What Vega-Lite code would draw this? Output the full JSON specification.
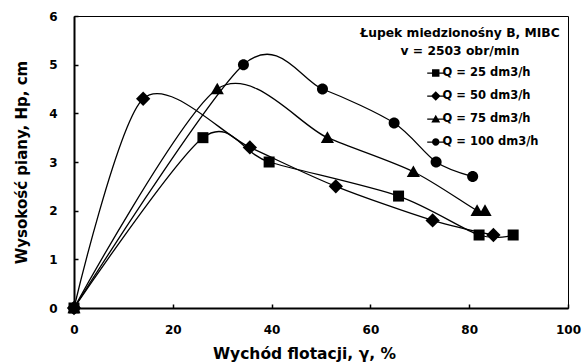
{
  "$schema": "https://vega.github.io/schema/vega-lite/v6.json",
  "width": 494,
  "height": 292,
  "autosize": "none",
  "padding": {"left": 74, "top": 16, "right": 14, "bottom": 56},
  "background": "white",
  "config": {
    "font": "DejaVu Sans",
    "view": {"stroke": "black", "strokeWidth": 1},
    "axis": {
      "grid": false,
      "domainColor": "black",
      "domainWidth": 2,
      "tickColor": "black",
      "tickSize": -4,
      "tickWidth": 1.5,
      "labelFont": "DejaVu Sans",
      "labelFontWeight": "bold",
      "labelFontSize": 12,
      "labelColor": "black",
      "labelFlush": false,
      "titleFont": "DejaVu Sans",
      "titleFontWeight": "bold",
      "titleFontSize": 15,
      "titleColor": "black"
    }
  },
  "data": {
    "values": [
      {"series": "Q = 25 dm3/h", "x": 0, "y": 0},
      {"series": "Q = 25 dm3/h", "x": 26.1, "y": 3.5},
      {"series": "Q = 25 dm3/h", "x": 39.5, "y": 3.0},
      {"series": "Q = 25 dm3/h", "x": 65.7, "y": 2.3},
      {"series": "Q = 25 dm3/h", "x": 82.0, "y": 1.5},
      {"series": "Q = 25 dm3/h", "x": 88.9, "y": 1.5},
      {"series": "Q = 50 dm3/h", "x": 0, "y": 0},
      {"series": "Q = 50 dm3/h", "x": 14.0, "y": 4.3},
      {"series": "Q = 50 dm3/h", "x": 35.6, "y": 3.3},
      {"series": "Q = 50 dm3/h", "x": 53.0, "y": 2.5},
      {"series": "Q = 50 dm3/h", "x": 72.6, "y": 1.8},
      {"series": "Q = 50 dm3/h", "x": 84.9, "y": 1.5},
      {"series": "Q = 75 dm3/h", "x": 0, "y": 0},
      {"series": "Q = 75 dm3/h", "x": 29.0, "y": 4.5},
      {"series": "Q = 75 dm3/h", "x": 51.3, "y": 3.5},
      {"series": "Q = 75 dm3/h", "x": 68.7, "y": 2.8},
      {"series": "Q = 75 dm3/h", "x": 81.6, "y": 2.0},
      {"series": "Q = 75 dm3/h", "x": 83.2, "y": 2.0},
      {"series": "Q = 100 dm3/h", "x": 0, "y": 0},
      {"series": "Q = 100 dm3/h", "x": 34.3, "y": 5.0},
      {"series": "Q = 100 dm3/h", "x": 50.3, "y": 4.5},
      {"series": "Q = 100 dm3/h", "x": 64.8, "y": 3.8},
      {"series": "Q = 100 dm3/h", "x": 73.3, "y": 3.0},
      {"series": "Q = 100 dm3/h", "x": 80.7, "y": 2.7}
    ]
  },
  "encoding": {
    "x": {"field": "x", "type": "quantitative", "scale": {"domain": [0, 100]},
          "axis": {"values": [0, 20, 40, 60, 80, 100], "title": "Wychód flotacji, γ, %", "titleFontSize": 15.5, "titleX": 230, "labelPadding": 20, "titlePadding": 11}},
    "y": {"field": "y", "type": "quantitative", "scale": {"domain": [0, 6]},
          "axis": {"values": [0, 1, 2, 3, 4, 5, 6], "title": "Wysokość piany, Hp, cm", "labelPadding": 21, "titlePadding": 19}}
  },
  "layer": [
    {
      "mark": {"type": "line", "interpolate": "cardinal", "tension": 0.15, "color": "black", "strokeWidth": 1.3},
      "encoding": {"detail": {"field": "series", "type": "nominal"}}
    },
    {
      "mark": {"type": "point", "filled": true, "color": "black", "size": 121, "strokeWidth": 0, "opacity": 1},
      "encoding": {
        "shape": {
          "field": "series", "type": "nominal",
          "scale": {
            "domain": ["Q = 25 dm3/h", "Q = 50 dm3/h", "Q = 75 dm3/h", "Q = 100 dm3/h"],
            "range": [
              "M-1,-1H1V1H-1Z",
              "M0,-1.3L1.3,0L0,1.3L-1.3,0Z",
              "M0,-1.15L1.2,0.95H-1.2Z",
              "M1,0A1,1 0 1,1 -1,0A1,1 0 1,1 1,0Z"
            ]
          },
          "legend": null
        }
      }
    },
    {
      "mark": {"type": "point", "filled": true, "color": "black", "size": 0, "strokeWidth": 0},
      "encoding": {
        "shape": {
          "field": "series", "type": "nominal",
          "scale": {
            "domain": ["Q = 25 dm3/h", "Q = 50 dm3/h", "Q = 75 dm3/h", "Q = 100 dm3/h"],
            "range": [
              "M-2.3,-0.17H2.3V0.17H-2.3ZM-1,-1H1V1H-1Z",
              "M-2.3,-0.17H2.3V0.17H-2.3ZM0,-1.3L1.3,0L0,1.3L-1.3,0Z",
              "M-2.3,-0.17H2.3V0.17H-2.3ZM0,-1.15L1.2,0.95H-1.2Z",
              "M-2.3,-0.17H2.3V0.17H-2.3ZM1,0A1,1 0 1,1 -1,0A1,1 0 1,1 1,0Z"
            ]
          },
          "legend": {
            "title": ["Łupek miedzionośny B, MIBC", "v = 2503 obr/min"],
            "orient": "none",
            "legendX": 286,
            "legendY": 11,
            "padding": 0,
            "titleFont": "DejaVu Sans",
            "titleFontSize": 12.3,
            "titleFontWeight": "bold",
            "titleColor": "black",
            "titleAlign": "center",
            "titleAnchor": "middle",
            "titleLimit": 400,
            "titleLineHeight": 18,
            "titlePadding": 10,
            "labelFont": "DejaVu Sans",
            "labelFontSize": 11.5,
            "labelFontWeight": "bold",
            "labelColor": "black",
            "labelLimit": 300,
            "symbolSize": 55,
            "symbolOpacity": 1,
            "symbolFillColor": "black",
            "symbolStrokeWidth": 0,
            "symbolOffset": 49,
            "labelOffset": 1,
            "rowPadding": 10
          }
        }
      }
    }
  ],
  "resolve": {"scale": {"shape": "independent"}}
}
